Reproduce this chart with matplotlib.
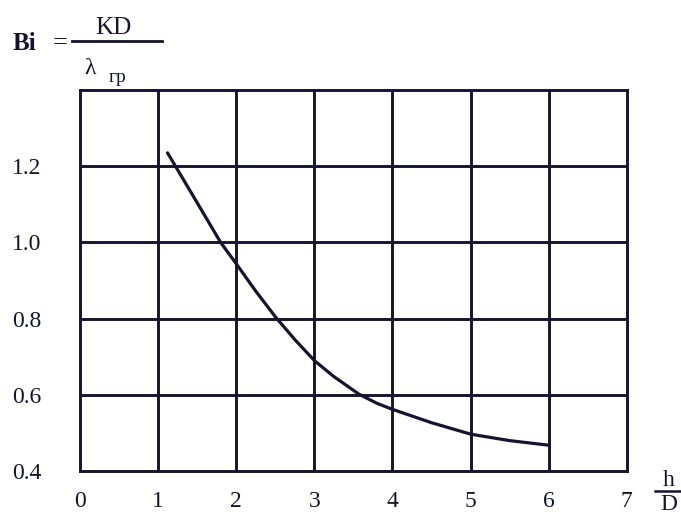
import matplotlib
matplotlib.use("Agg")
import matplotlib.pyplot as plt

# Data
h_over_d = [1.12, 1.50, 1.80, 2.00, 2.25, 2.50, 2.75, 3.00, 3.25,
            3.57, 3.80, 4.00, 4.50, 5.00, 5.50, 6.00]
bi = [1.235, 1.104, 1.000, 0.944, 0.872, 0.805, 0.745, 0.690, 0.648,
      0.602, 0.578, 0.562, 0.527, 0.497, 0.480, 0.468]
x_ticks = [0, 1, 2, 3, 4, 5, 6, 7]
y_ticks = [0.4, 0.6, 0.8, 1.0, 1.2]
y_tick_labels = ["0.4", "0.6", "0.8", "1.0", "1.2"]

ink = "#14142e"
plt.rcParams['font.family'] = ['Liberation Serif', 'DejaVu Serif']

fig = plt.figure(figsize=(6.81, 5.20), dpi=100)
ax = fig.add_axes([0.1175, 0.094, 0.803, 0.733])
ax.set_xlim(0, 7)
ax.set_ylim(0.4, 1.4)

for x in x_ticks[1:-1]:
    ax.axvline(x, color=ink, lw=2.1, zorder=1)
for y in [0.6, 0.8, 1.0, 1.2]:
    ax.axhline(y, color=ink, lw=2.1, zorder=1)

ax.plot(h_over_d, bi, color=ink, lw=2.3, zorder=2,
        solid_joinstyle='round', solid_capstyle='round')

for s in ax.spines.values():
    s.set_color(ink)
    s.set_linewidth(2.1)

ax.set_xticks(x_ticks)
ax.set_xticklabels([str(v) for v in x_ticks])
ax.set_yticks(y_ticks)
ax.set_yticklabels(y_tick_labels)
ax.tick_params(axis='both', length=0, labelsize=17, colors=ink)
ax.tick_params(axis='x', pad=14)
ax.tick_params(axis='y', pad=28)

# Axis label h/D at the right end
fig.text(669/681, 1 - 480/520, "h", ha='center', va='center', fontsize=17, color=ink)
fig.lines.append(plt.Line2D([655/681, 684/681], [1 - 491/520] * 2,
                            transform=fig.transFigure, color=ink, lw=1.8))
fig.text(669/681, 1 - 505/520, "D", ha='center', va='center', fontsize=17, color=ink)

# Formula Bi = KD / λ_гр at top left
fig.text(13/681, 1 - 44/520, "Bi", ha='left', va='center', fontsize=18,
         fontweight='bold', color=ink)
fig.text(60/681, 1 - 43/520, "=", ha='center', va='center', fontsize=19, color=ink)
fig.lines.append(plt.Line2D([72/681, 162/681], [1 - 41/520] * 2,
                            transform=fig.transFigure, color=ink, lw=2.0))
fig.text(113/681, 1 - 28/520, "KD", ha='center', va='center', fontsize=18, color=ink)
fig.text(90/681, 1 - 68/520, "λ", ha='center', va='center', fontsize=17, color=ink)
fig.text(109/681, 1 - 78/520, "гр", ha='left', va='center', fontsize=14, color=ink)

fig.savefig("out.png", dpi=100, facecolor="white")
